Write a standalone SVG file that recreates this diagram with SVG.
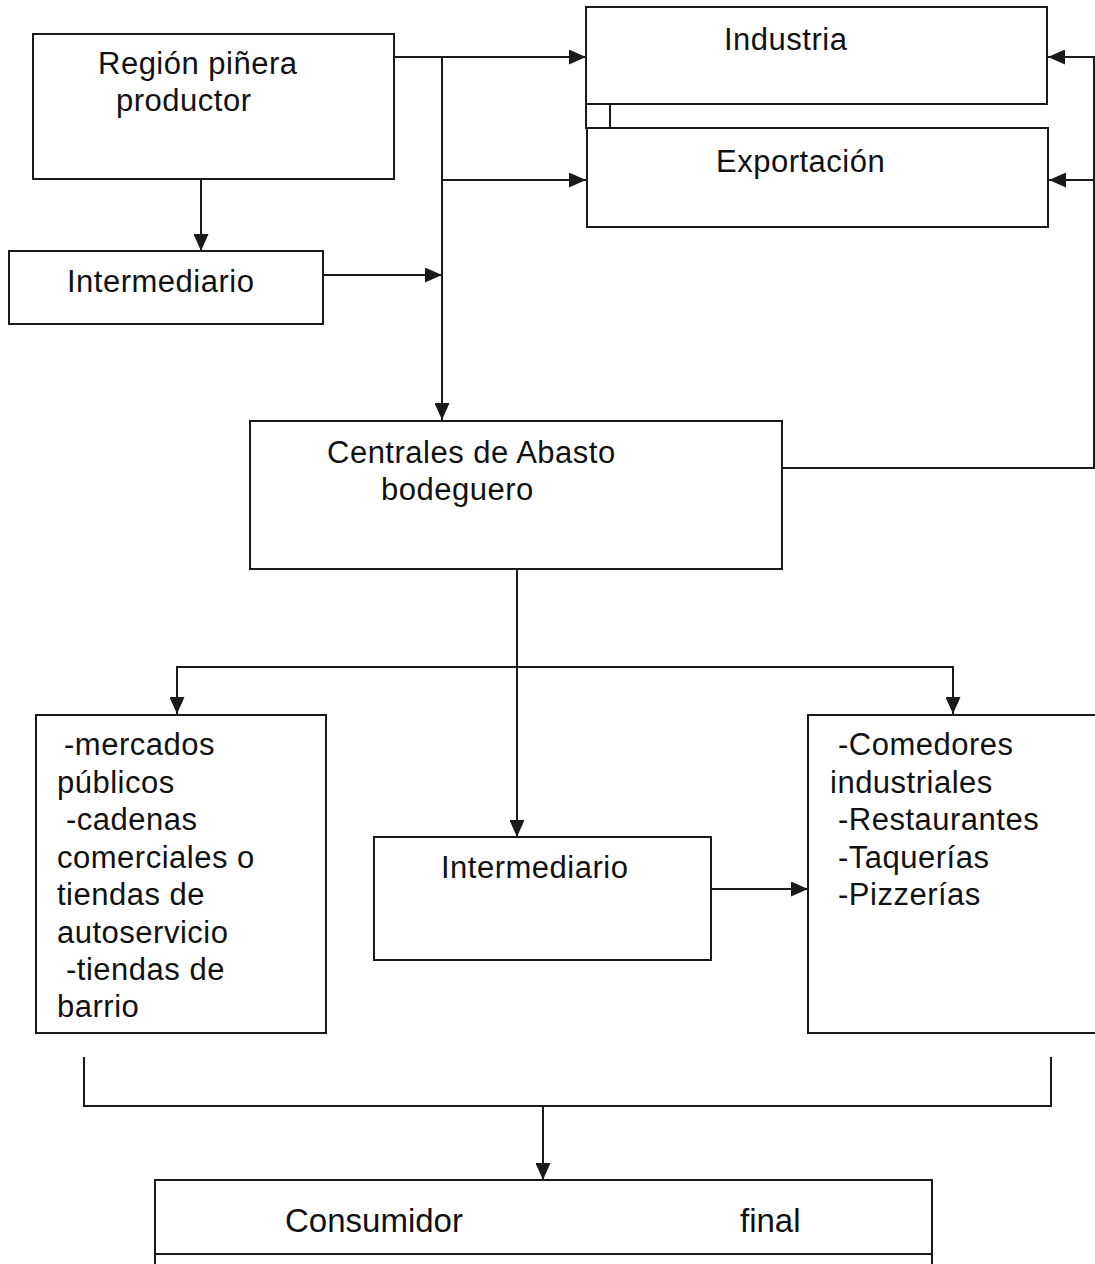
<svg xmlns="http://www.w3.org/2000/svg" width="1095" height="1264" viewBox="0 0 1095 1264">
<style>
.box{fill:#fff;stroke:#1a1a1a;stroke-width:2}
.ln{fill:none;stroke:#1a1a1a;stroke-width:2}
text{font-family:"Liberation Sans",Arial,sans-serif;font-size:31px;fill:#111;letter-spacing:0.5px}
.tall{font-size:33px;letter-spacing:0}
</style>
<defs>
<marker id="ah" viewBox="0 0 17 15" refX="17" refY="7.5" markerWidth="17" markerHeight="15" markerUnits="userSpaceOnUse" orient="auto">
<path d="M0,0 L17,7.5 L0,15 Z" fill="#1a1a1a"/>
</marker>
</defs>
<rect width="1095" height="1264" fill="#fff"/>
<g id="connectors">
<path class="ln" d="M394,57 H586" marker-end="url(#ah)"/>
<path class="ln" d="M442,57 V420" marker-end="url(#ah)"/>
<path class="ln" d="M442,180 H586" marker-end="url(#ah)"/>
<path class="ln" d="M201,179 V251" marker-end="url(#ah)"/>
<path class="ln" d="M323,275 H442" marker-end="url(#ah)"/>
<path class="ln" d="M782,468 H1094 V57 H1048" marker-end="url(#ah)"/>
<path class="ln" d="M1094,180 H1049" marker-end="url(#ah)"/>
<path class="ln" d="M517,569 V837" marker-end="url(#ah)"/>
<path class="ln" d="M177,714 V667 H953 V714" marker-end="url(#ah)"/>
<path class="ln" d="M177,667 V714" marker-end="url(#ah)"/>
<path class="ln" d="M711,889 H808" marker-end="url(#ah)"/>
<path class="ln" d="M84,1057 V1106 H1051 V1057"/>
<path class="ln" d="M543,1106 V1180" marker-end="url(#ah)"/>
</g>
<g id="region">
<rect class="box" x="33" y="34" width="361" height="145"/>
<text x="98" y="74">Región piñera</text>
<text x="116" y="111">productor</text>
</g>
<g id="industria">
<rect class="box" x="586" y="7" width="461" height="97"/>
<text x="724" y="50">Industria</text>
</g>
<g id="link-box">
<rect class="box" x="586" y="104" width="24" height="24"/>
</g>
<g id="exportacion">
<rect class="box" x="587" y="128" width="461" height="99"/>
<text x="716" y="172">Exportación</text>
</g>
<g id="intermediario1">
<rect class="box" x="9" y="251" width="314" height="73"/>
<text x="67" y="292">Intermediario</text>
</g>
<g id="centrales">
<rect class="box" x="250" y="421" width="532" height="148"/>
<text x="327" y="463">Centrales de Abasto</text>
<text x="381" y="500">bodeguero</text>
</g>
<g id="mercados">
<rect class="box" x="36" y="715" width="290" height="318"/>
<text x="64" y="755">-mercados</text>
<text x="57" y="793">públicos</text>
<text x="66" y="830">-cadenas</text>
<text x="57" y="868">comerciales o</text>
<text x="57" y="905">tiendas de</text>
<text x="57" y="943">autoservicio</text>
<text x="66" y="980">-tiendas de</text>
<text x="57" y="1017">barrio</text>
</g>
<g id="intermediario2">
<rect class="box" x="374" y="837" width="337" height="123"/>
<text x="441" y="878">Intermediario</text>
</g>
<g id="comedores">
<rect class="box" x="808" y="715" width="300" height="318"/>
<text x="838" y="755">-Comedores</text>
<text x="830" y="793">industriales</text>
<text x="838" y="830">-Restaurantes</text>
<text x="838" y="868">-Taquerías</text>
<text x="838" y="905">-Pizzerías</text>
</g>
<g id="consumidor">
<rect class="box" x="155" y="1180" width="777" height="100"/>
<line class="ln" x1="155" y1="1254" x2="932" y2="1254"/>
<text class="tall" x="285" y="1232">Consumidor</text>
<text class="tall" x="740" y="1232">final</text>
</g>
</svg>
